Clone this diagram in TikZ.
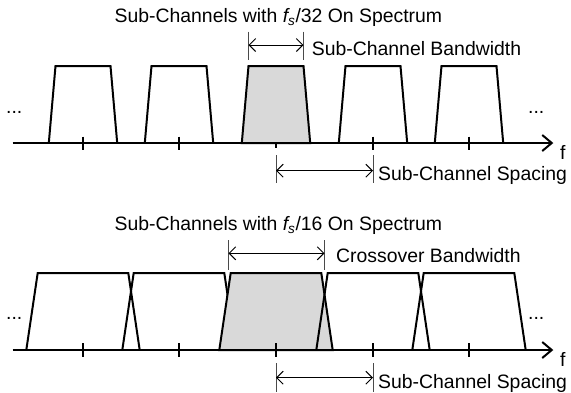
\documentclass[tikz,border=0pt]{standalone}
\usepackage{fontspec}
\setmainfont{Liberation Sans}
\usetikzlibrary{arrows.meta}
\definecolor{ink}{HTML}{000000}
\definecolor{chfill}{HTML}{D9D9D9}
\definecolor{extgray}{HTML}{4A4A4A}
\tikzset{
  axis/.style={draw=ink,line width=2pt,-{Straight Barb[length=9.5pt,width=16pt]}},
  chan/.style={draw=ink,line width=2pt,line join=miter},
  chang/.style={chan,fill=chfill},
  tk/.style={draw=ink,line width=2pt},
  ext/.style={draw=extgray,line width=1pt},
  dim/.style={draw=ink,line width=1pt,{Straight Barb[length=6.5pt,width=13pt]}-{Straight Barb[length=6.5pt,width=13pt]}},
  lab/.style={anchor=base west,inner sep=0pt,font=\fontsize{19.4}{23}\selectfont},
  ttl/.style={lab,anchor=base},
}
\begin{document}
\begin{tikzpicture}[x=1pt,y=-1pt]
  \useasboundingbox (0,0) rectangle (571,392);
  % ---- top: f_s/32
  \node[ttl] (ttl1) at (278.4,22.5) {Sub-Channels with \textit{f\textsubscript{s}}/32 On Spectrum};
  \foreach \c in {83,179,373,469}
    \draw[chan] (\c-34.2,143) -- (\c-27.5,66) -- (\c+27.5,66) -- (\c+34.2,143);
  \filldraw[chang] (241.8,143) -- (248.5,66) -- (303.5,66) -- (310.2,143) -- cycle;
  \draw[axis] (12.7,143) -- (553.3,143);
  \foreach \c in {83,179,373,469} \draw[tk] (\c,136.5) -- (\c,150);
  \draw[tk] (276,143) -- (276,148.3);
  \node[lab] (dl1) at (6,113) {...};
  \node[lab] (dr1) at (528,113) {...};
  \node[lab] (f1) at (560,159.3) {f};
  % bandwidth
  \draw[ext] (248.5,31.7) -- (248.5,60);
  \draw[ext] (303.5,31.7) -- (303.5,60);
  \draw[dim] (248.5,45) -- (303.5,45);
  \node[lab] (bw1) at (311.7,55) {Sub-Channel Bandwidth};
  % spacing
  \draw[ext] (276,155) -- (276,183.3);
  \draw[ext] (373,155) -- (373,183.3);
  \draw[dim] (276,170.7) -- (373,170.7);
  \node[lab] (sp1) at (378,180) {Sub-Channel Spacing};
  % ---- bottom: f_s/16
  \node[ttl] (ttl2) at (278.4,230) {Sub-Channels with \textit{f\textsubscript{s}}/16 On Spectrum};
  \foreach \c in {83,179}
    \draw[chan] (\c-56.7,350) -- (\c-45.3,273) -- (\c+45.3,273) -- (\c+56.7,350);
  \filldraw[chang] (219.3,350) -- (230.7,273) -- (321.3,273) -- (332.7,350) -- cycle;
  \foreach \c in {373,469}
    \draw[chan] (\c-56.7,350) -- (\c-45.3,273) -- (\c+45.3,273) -- (\c+56.7,350);
  \draw[axis] (12.7,350) -- (553.3,350);
  \foreach \c in {83,179,276,373,469} \draw[tk] (\c,343.3) -- (\c,356.7);
  \node[lab] (dl2) at (6,319) {...};
  \node[lab] (dr2) at (528,319) {...};
  \node[lab] (f2) at (560,366.5) {f};
  % crossover
  \draw[ext] (228.5,240) -- (228.5,270);
  \draw[ext] (324.5,240) -- (324.5,270);
  \draw[dim] (228.5,253.3) -- (324.5,253.3);
  \node[lab] (bw2) at (336,262.5) {Crossover Bandwidth};
  % spacing
  \draw[ext] (276,363.3) -- (276,392);
  \draw[ext] (373,363.3) -- (373,392);
  \draw[dim] (276,377.7) -- (373,377.7);
  \node[lab] (sp2) at (378,388.3) {Sub-Channel Spacing};
\end{tikzpicture}
\end{document}
